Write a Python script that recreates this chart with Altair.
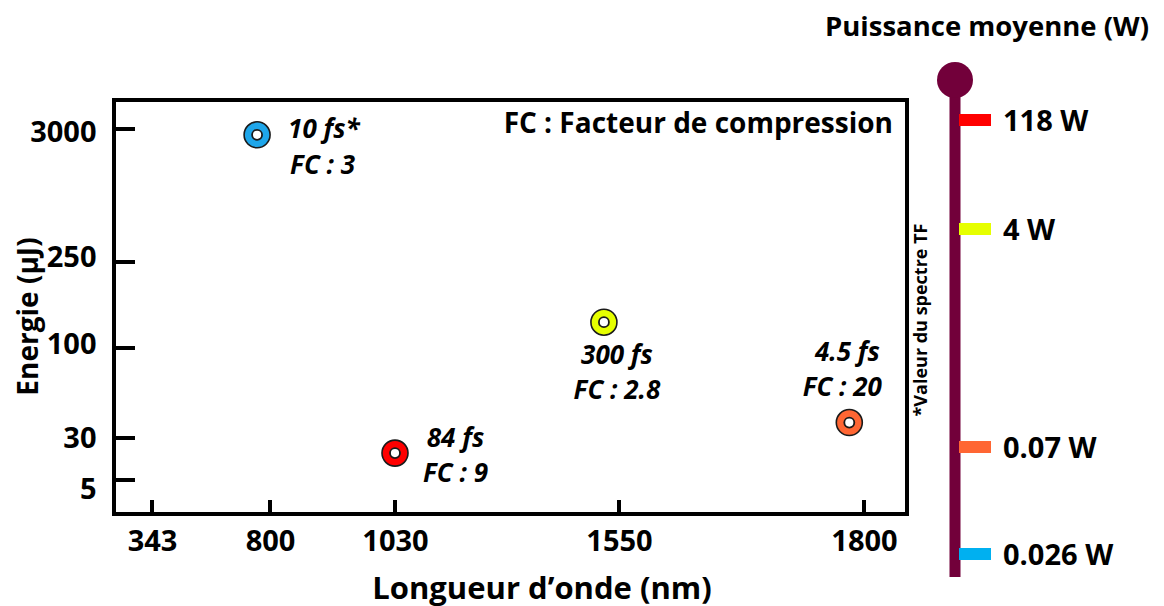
import altair as alt
import pandas as pd

# ---------------- data ----------------
wavelength_ticks = [343, 800, 1030, 1550, 1800]
energy_ticks = [5, 30, 100, 250, 3000]

point_wavelength = [750, 1030, 1515, 1785]
point_energy = [2880, 21, 145, 42]
point_duration = ["10 fs*", "84 fs", "300 fs", "4.5 fs"]
point_fc = ["FC : 3", "FC : 9", "FC : 2.8", "FC : 20"]
point_colors = ["#1EA6EA", "#FF0000", "#E6FF00", "#FF6633"]

power_values = [118, 4, 0.07, 0.026]
power_labels = ["118 W", "4 W", "0.07 W", "0.026 W"]
power_colors = ["#FF0000", "#E6FF00", "#FF6633", "#00B0F0"]

x_title = "Longueur d’onde (nm)"
y_title = "Energie (µJ)"
legend_note = "FC : Facteur de compression"
power_title = "Puissance moyenne (W)"
footnote = "*Valeur du spectre TF"

# ---------------- layout / style ----------------
W, H = 793, 414
FONT = "Open Sans"
MAROON = "#72003A"
OUTLINE = "#1a1a1a"
X_RANGE = [38, 156, 281, 505, 750]
Y_RANGE = [380, 338, 248, 162, 29]
P_RANGE = [20, 129, 347, 454]
Y_LABEL_OFFSETS = {3000: 3.5, 250: -4.5, 100: -4, 30: 0.5, 5: 9}
# align, dx line1, dy line1, dx line2, dy line2
ANN = [
    ("left", 31, -4.5, 33, 31.5),
    ("center", 60.5, -14, 60.5, 21),
    ("center", 13, 34, 13, 68.5),
    ("center", -2, -70, -7, -35),
]

points = pd.DataFrame({
    "idx": list(range(len(point_wavelength))),
    "wavelength": point_wavelength,
    "energy": point_energy,
    "duration": point_duration,
    "fc": point_fc,
    "color": point_colors,
})
power_df = pd.DataFrame({"power": power_values, "label": power_labels, "color": power_colors})
xtick_df = pd.DataFrame({"wavelength": wavelength_ticks})
ytick_df = pd.DataFrame({"energy": energy_ticks})
one = pd.DataFrame({"t": [0]})

xscale = alt.Scale(type="linear", domain=wavelength_ticks, range=X_RANGE, nice=False, zero=False)
yscale = alt.Scale(type="linear", domain=energy_ticks, range=Y_RANGE, nice=False, zero=False)
pscale = alt.Scale(type="linear", domain=power_values, range=P_RANGE, nice=False, zero=False)

label_offset = {
    "condition": [{"test": f"datum.value === {v}", "value": o} for v, o in Y_LABEL_OFFSETS.items()],
    "value": 0,
}

x_axis = alt.Axis(
    values=wavelength_ticks, format="d", ticks=False, tickSize=0, domain=False, grid=False,
    labelPadding=13, labelFont=FONT, labelFontSize=29, labelFontWeight="bold", labelColor="black",
    labelFlush=False, labelOverlap=False,
    title=x_title, titleFont=FONT, titleFontSize=31, titleFontWeight="bold", titleColor="black",
    titleX=427.5, titleY=84, titleAlign="center", titleBaseline="alphabetic",
)
y_axis = alt.Axis(
    values=energy_ticks, format="d", ticks=False, tickSize=0, domain=False, grid=False,
    labelPadding=18, labelOffset=label_offset, labelFont=FONT, labelFontSize=29,
    labelFontWeight="bold", labelColor="black", labelFlush=False, labelOverlap=False,
    title=y_title, titleFont=FONT, titleFontSize=28, titleFontWeight="bold", titleColor="black",
    titleX=-77, titleY=216, titleAlign="center", titleBaseline="alphabetic", titleAngle=270,
)

base = alt.Chart(points)

outer = base.mark_point(shape="circle", filled=True, size=676, stroke=OUTLINE,
                        strokeWidth=1.6, opacity=1).encode(
    x=alt.X("wavelength:Q", scale=xscale, axis=x_axis),
    y=alt.Y("energy:Q", scale=yscale, axis=y_axis),
    fill=alt.Fill("color:N", scale=None),
)
inner = base.mark_point(shape="circle", filled=True, size=100, fill="white", stroke=OUTLINE,
                        strokeWidth=1.8, opacity=1).encode(
    x=alt.X("wavelength:Q", scale=xscale),
    y=alt.Y("energy:Q", scale=yscale, axis=None),
)

yticks = alt.Chart(ytick_df).mark_rule(color="black", strokeWidth=4, strokeCap="butt").encode(
    y=alt.Y("energy:Q", scale=yscale, axis=None),
    x=alt.value(0), x2=alt.value(21),
)
xticks = alt.Chart(xtick_df).mark_rule(color="black", strokeWidth=4, strokeCap="butt").encode(
    x=alt.X("wavelength:Q", scale=xscale),
    y=alt.value(H - 14), y2=alt.value(H),
)

layers = [yticks, xticks, outer, inner]

for i, (align, dx1, dy1, dx2, dy2) in enumerate(ANN):
    for field, dx, dy in (("duration", dx1, dy1), ("fc", dx2, dy2)):
        layers.append(
            base.transform_filter(alt.datum.idx == i).mark_text(
                align=align, baseline="middle", dx=dx, dy=dy, font=FONT, fontSize=26,
                fontStyle="italic", fontWeight="bold", color="black",
            ).encode(
                x=alt.X("wavelength:Q", scale=xscale),
                y=alt.Y("energy:Q", scale=yscale, axis=None),
                text=f"{field}:N",
            )
        )

note = alt.Chart(pd.DataFrame({"t": [legend_note]})).mark_text(
    align="right", baseline="alphabetic", font=FONT, fontSize=28, fontWeight="bold", color="black"
).encode(x=alt.value(779), y=alt.value(33), text="t:N")

bar = alt.Chart(one).mark_rule(color=MAROON, strokeWidth=11, strokeCap="butt").encode(
    x=alt.value(841), y=alt.value(-20), y2=alt.value(477)
)
knob = alt.Chart(one).mark_point(shape="circle", filled=True, size=1296, color=MAROON,
                                 opacity=1).encode(x=alt.value(841), y=alt.value(-20))

pticks = alt.Chart(power_df).mark_rule(strokeWidth=12, strokeCap="butt").encode(
    y=alt.Y("power:Q", scale=pscale, axis=None),
    x=alt.value(845), x2=alt.value(877),
    color=alt.Color("color:N", scale=None),
)
plabels = alt.Chart(power_df).mark_text(
    align="left", baseline="middle", dy=2, font=FONT, fontSize=29, fontWeight="bold", color="black"
).encode(
    y=alt.Y("power:Q", scale=pscale, axis=None),
    x=alt.value(889),
    text="label:N",
)
ptitle = alt.Chart(pd.DataFrame({"t": [power_title]})).mark_text(
    align="center", baseline="alphabetic", font=FONT, fontSize=27.5, fontWeight="bold",
    color="black"
).encode(x=alt.value(873), y=alt.value(-64), text="t:N")
fnote = alt.Chart(pd.DataFrame({"t": [footnote]})).mark_text(
    align="center", baseline="middle", angle=270, font=FONT, fontSize=18, fontWeight="bold",
    color="black"
).encode(x=alt.value(808), y=alt.value(220), text="t:N")

layers += [note, bar, knob, pticks, plabels, ptitle, fnote]

chart = (
    alt.layer(*layers)
    .resolve_scale(y="independent")
    .properties(
        width=W, height=H,
        autosize=alt.AutoSizeParams(type="none"),
        padding={"left": 106, "top": 92, "right": 249, "bottom": 92},
    )
    .configure_view(stroke="black", strokeWidth=4)
)

chart.save("out.html", embed_options={"renderer": "svg", "actions": False})
